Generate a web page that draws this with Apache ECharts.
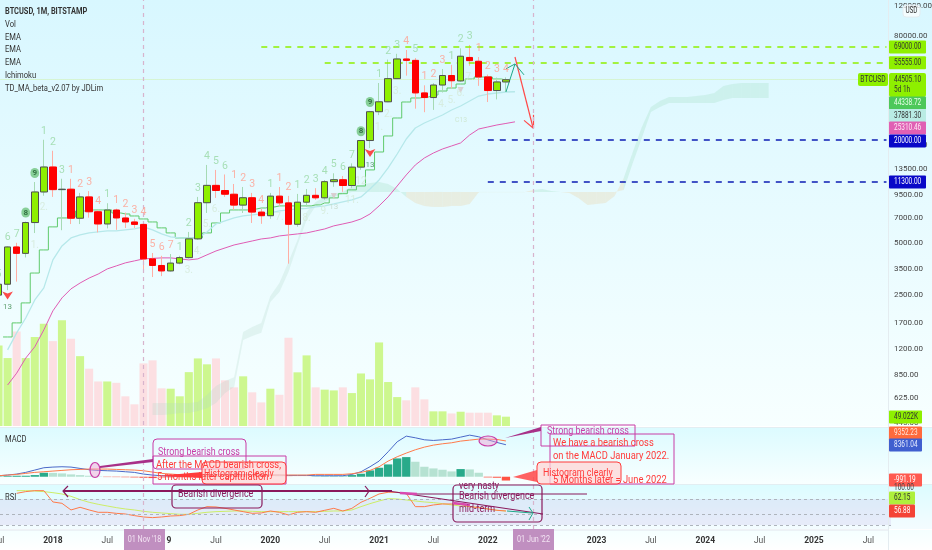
<!DOCTYPE html>
<html>
<head>
<meta charset="utf-8">
<style>html,body{margin:0;padding:0;background:#fff}#main{width:932px;height:550px}</style>
<script src="https://cdn.jsdelivr.net/npm/echarts@6/dist/echarts.min.js"></script>
</head>
<body>
<div id="main"></div>
<script>
// monthly candles, Jul 2017 .. Mar 2022
var opens = [2480,2870,4730,4340,6560,9886,13820,10200,10260,6950,9250,7580,6437,7760,6976,6612,6400,4030,3690,3430,3810,4100,5270,8560,10800,10080,9590,8290,9150,7550,7190,9350,8540,6410,8620,9450,9140,11350,11650,10780,13790,19700,28990,33110,45160,58800,57700,37300,35050,41460,47100,43800,60000,57000,46200,38500,43200];
var closes = [2870,4730,4340,6560,9886,13820,10200,10260,6950,9250,7580,6437,7760,6976,6612,6400,4030,3690,3430,3810,4100,5270,8560,10800,10080,9590,8290,9150,7550,7190,9350,8540,6410,8620,9450,9140,11350,11650,10780,13790,19700,28990,33110,45160,58800,57700,37300,35050,41460,47100,43900,61000,57500,46200,38500,43200,44505];
var lows = [1830,2650,2972,4110,5700,9400,9250,5920,6430,6430,7000,5750,6070,5950,6100,6100,3500,3160,3200,3410,3750,4050,5200,7460,9130,9250,7770,7460,6524,6450,6900,8200,3780,6200,8100,8900,8900,10600,9900,10400,13300,17800,27700,33000,44900,47000,30200,28800,29700,37500,39600,43300,53700,41000,33000,34200,37900];
var highs = [2920,4770,5000,6650,11300,19900,17170,11800,11790,9760,10000,7760,8500,7900,7500,6900,6700,4360,4200,4300,4200,5785,9250,14200,13285,12500,11000,10570,9760,7900,9760,10570,9380,9630,10290,10400,11600,12700,12250,14500,19800,29300,42590,58300,63000,66300,59500,41300,42500,51400,54300,67800,70900,60350,47700,45800,45900];

// stepped TD line, two EMAs (first value is Aug 2017)
var tdStep = [1415,1709,2234,3334,4544,6190,6976,7070,7663,7766,7766,7766,7459,7360,7165,6884,6612,6108,5708,5338,5338,5338,5708,6524,7459,7766,7766,7870,7976,8090,8200,8200,8200,8200,8310,8535,9130,9660,10165,10710,13285,16893,20940,26650,33025,34840,35310,36260,38260,39830,42026,44937,46160,46160,44937,44338];
var emaCyan = [1190,1495,1825,2325,2733,3977,4794,5338,5557,5708,5785,5863,5863,5942,6022,6190,5942,5630,5410,5338,5338,5338,5785,6437,6701,6976,7165,7262,7360,7459,7663,7766,7870,7923,8090,8200,8420,8650,8885,9250,10290,11614,13636,16448,20113,23306,24921,26295,27745,29664,31297,33467,35780,36750,37250,37750,37881];
var emaPink = [743,871,1066,1240,1556,2009,2388,2697,2917,3118,3290,3524,3669,3821,3924,4030,4057,4085,4085,4030,3977,4030,4253,4483,4667,4858,4990,5125,5265,5338,5483,5557,5632,5708,5863,6022,6274,6437,6612,6884,7360,8200,9250,10710,12420,14196,15590,16670,17590,18314,19070,21222,22994,23620,24261,24770,25310];

// ichimoku spans, first value is Dec 2018
var spanA = [583,583,583,583,583,591,649,733,783,826,1515,1620,1709,2453,2917,3872,5197,7566,8650,9250,9630,9890,10710,10860,11150,11300,11000,10290,9250,8535,8200,8090,8090,8200,8200,8420,9860,9860,9860,9860,9860,9860,10160,10290,10020,9880,9760,9130,8310,8420,8535,9380,11930,16890,23620,30880,33470,35310,35310,35310,35780,36260,37250,40910,42030,42590,42590,42590,42590];
var spanB = [497,497,503,510,510,524,545,583,667,723,1359,1434,1495,2263,2590,3379,4858,6790,8200,8650,9250,9630,9890,9890,9890,9890,9890,9890,9890,9890,9890,9890,9890,9890,9890,9890,9890,9890,9890,9890,9890,9890,9890,9890,9890,9890,9890,9890,9890,9890,9890,9890,10160,14580,20390,28880,30880,32580,32580,32580,32580,32580,32580,33920,34840,34840,34840,34840,34840];

var volumes = [423,357,497,357,467,537,446,555,458,367,301,234,234,227,156,114,329,345,198,196,156,283,355,324,355,240,203,261,177,124,196,164,464,282,371,203,191,187,203,173,276,245,439,231,152,135,203,140,77,77,66,75,70,70,70,56,49];

var macdLine = [261,435,696,1131,1740,2349,2523,2610,2523,2175,1827,1653,1566,1479,1305,1131,696,435,261,174,87,174,348,522,609,609,609,609,522,435,435,435,348,348,348,261,261,261,261,609,1305,2610,4089,6525,9135,10614,10179,9657,9483,9657,9831,10353,10875,10440,9657,8961,8361];
var signalLine = [261,435,609,870,1131,1305,1479,1653,1827,1914,2001,2001,2001,1914,1827,1740,1566,1218,870,696,522,435,435,435,435,435,435,435,435,435,435,435,435,435,435,609,609,609,609,783,1131,1653,2610,4089,5220,6177,7047,7743,8265,8613,8874,9309,9570,9831,9831,9744,9352];
var macdHist = [100,170,260,260,430,1040,1000,870,610,430,260,90,-90,-100,-130,-180,-260,-350,-350,-260,-170,90,170,170,170,90,-30,-60,-90,-90,-30,30,-30,-30,-30,60,90,90,90,435,783,1653,2349,3219,4785,5133,3915,2610,2175,1827,1392,2001,1914,1044,-174,-261,-991];

var rsiLine = [null,null,78.7,81.3,82.8,82.8,65.4,63.3,53.1,57.2,53.1,49.5,49.5,47.9,46.9,44.4,42.3,41.3,42.3,43.8,44.4,46.4,53.1,58.2,57.7,55.6,53.1,50.5,47.9,48.5,51.5,49.5,45.4,49.5,50.5,49.5,52.6,55.6,51.5,55.6,64.9,71,77.7,80.3,80.3,78.7,58.2,58.2,60.8,62.3,62.3,61.8,58.2,56.7,54.6,52.6,51.5];
var rsiMa = [null,null,82.8,82.8,82.3,81.3,79.7,77.7,74.1,69,64.9,61.8,59.2,56.7,54.6,53.1,51,49.5,48.5,47.4,46.4,46.4,47.9,49.5,50.5,51,51.5,51.5,51,50.5,50.5,50.5,50.5,50.5,50.5,50.5,51,51.5,51.5,53.1,58.2,62.8,66.9,70.5,70,68.5,66.9,65.4,64.4,62.8,60.8,59.2,58.2,56.7,54.6,52.6,51.5];
var rsiLevels = [70,46.4,30];

// count labels: [month index, text]
var countsGreen = [[0,'5'],[1,'6'],[2,'7'],[5,'1'],[6,'2'],[7,'3'],[12,'1'],[20,'1'],[21,'2'],[22,'3'],[23,'4'],[24,'5'],[25,'6'],[30,'1'],[33,'1'],[34,'2'],[35,'3'],[36,'4'],[37,'5'],[38,'6'],[39,'7'],[42,'1'],[43,'2'],[44,'3'],[46,'5'],[50,'1'],[51,'2'],[52,'3']];
var countsRed = [[8,'1'],[9,'2'],[10,'3'],[11,'4'],[13,'1'],[14,'2'],[15,'3'],[16,'4'],[17,'5'],[18,'6'],[19,'7'],[26,'1'],[27,'2'],[28,'3'],[29,'4'],[31,'1'],[32,'2'],[45,'4'],[47,'1'],[48,'2'],[49,'3'],[53,'1'],[54,'2'],[55,'3'],[56,'4']];
var countsRound = [[3,'8'],[4,'9'],[40,'8'],[41,'9']];
var countsBelow = [[4,'1.'],[5,'2.'],[21,'3.'],[22,'4.'],[23,'5.'],[24,'6.'],[31,'7.'],[34,'8.'],[36,'9.'],[39,'11.'],[40,'12'],[42,'1.'],[43,'2.'],[44,'3.'],[49,'4.'],[50,'5.'],[51,'6.'],[52,'7.']];
// red arrow with a 13 under it: [month index, price]
var signal13 = [[1,2340],[41,15800]];
// small grey triangles: [month index, price, text]
var fadedMarks = [[37,9380,'13'],[51,38780,'']];

var priceTicks = [120000,80000,18500,13500,9500,7000,5000,3500,2500,1700,1200,850,625,445];
var levelsGreen = [[69000,29],[55555,36]];
var levelsBlue = [[20000,54],[11300,54]];
var lastPrice = 44505.10;
var markedMonths = [16,59];

// right hand price tags: text, centre y, background, text colour, width
var priceTags = [
  ['69000.00',47,'#8ef000','#333',37],['55555.00',62.7,'#8ef000','#333',37],
  ['44338.72',103,'#4cc85a','#e8ffe8',37],['37881.30',115.5,'#b9ece4','#333',37],
  ['25310.46',128,'#e060b4','#ffe8f6',37],['20000.00',141,'#0808c8','#fff',37],
  ['11300.00',182,'#0808c8','#fff',37],['49.022K',417,'#8ef000','#333',33],
  ['9352.23',433,'#ff6a3c','#ffe6dc',33],['8361.04',445,'#3f5fcf','#e6ecff',33],
  ['-991.19',480,'#ff5a50','#fff',33],['62.15',498,'#aef03c','#333',26],['56.88',511,'#f44336','#fff',26]
];

var months = [];
(function () {
  var names = ['01','02','03','04','05','06','07','08','09','10','11','12'];
  var y = 2017, m = 6;
  for (var k = 0; k < 99; k++) {
    months.push(y + '-' + names[m]);
    m++;
    if (m == 12) { m = 0; y++; }
  }
})();

var FONT = 'Roboto,sans-serif';
var candleLast = closes.length;

function pad(list) { return [null].concat(list); }
function pickAt(list, src) { return list.map(function (c) { return [c[0], src[c[0]], c[1]]; }); }

var wicks = opens.map(function (o, i) { return [o, closes[i], lows[i], highs[i]]; });
var bodies = opens.map(function (o, i) { return [o, closes[i], Math.min(o, closes[i]), Math.max(o, closes[i])]; });

var cloudRows = spanA.map(function (a, k) { return [17 + k, a, spanB[k]]; });

function renderCloud(params, api) {
  var k = params.dataIndex;
  if (k >= cloudRows.length - 1) return;
  var r = cloudRows[k], n = cloudRows[k + 1];
  var fill = r[1] >= r[2] ? (r[0] < 35 ? 'rgba(176,214,200,0.25)' : 'rgba(176,228,208,0.38)') : 'rgba(232,222,190,0.45)';
  return {
    type: 'polygon',
    shape: { points: [api.coord([r[0], r[1]]), api.coord([n[0], n[1]]), api.coord([n[0], n[2]]), api.coord([r[0], r[2]])] },
    style: { fill: fill }
  };
}

function seg(x1, v1, x2, v2, color, width) {
  return [{ coord: [x1, v1], lineStyle: { color: color, width: width, type: 'solid' } }, { coord: [x2, v2] }];
}

// --- drawn notes, these sit on top of the panes in screen pixels
function rect(x, y, w, h, stroke, fill, r, lw) {
  return { type: 'rect', z: 50, shape: { x: x, y: y, width: w, height: h, r: r || 0 }, style: { stroke: stroke, fill: fill || 'transparent', lineWidth: lw || 1 } };
}
function txt(x, y, s, color, size, squeeze, extra) {
  return {
    type: 'text', z: 60, x: x, y: y, scaleX: squeeze || 0.85,
    style: Object.assign({ x: 0, y: 0, text: s, fill: color, font: (size || 11) + 'px ' + FONT, textVerticalAlign: 'middle' }, extra || {})
  };
}
function poly(points, stroke, lw) {
  return { type: 'polyline', z: 55, shape: { points: points }, style: { stroke: stroke, lineWidth: lw || 1, fill: 'transparent' } };
}
function wedge(points, fill) {
  return { type: 'polygon', z: 52, shape: { points: points }, style: { fill: fill } };
}
function oval(cx, cy, rx, ry, stroke, fill) {
  return { type: 'ellipse', z: 54, shape: { cx: cx, cy: cy, rx: rx, ry: ry }, style: { stroke: stroke, fill: fill, lineWidth: 1.2 } };
}
function paneBg(y, h, c1, c2) {
  return { type: 'rect', z: -10, shape: { x: 0, y: y, width: 932, height: h }, style: { fill: new echarts.graphic.LinearGradient(0, 0, 0, 1, [{ offset: 0, color: c1 }, { offset: 1, color: c2 }]) } };
}

var MAROON = '#8a1a5c', PINK = '#c83ca6', RED = '#ff3b3b';
var graphics = [
  paneBg(0, 426, '#d8f7ff', '#f7ffff'),
  paneBg(427, 57, '#dcfbff', '#f8ffff'),
  paneBg(485, 44, '#dcfcff', '#f4fcff'),
  paneBg(530, 20, '#f4ffff', '#ffffff'),
  { type: 'rect', z: -9, shape: { x: 0, y: 427, width: 932, height: 1 }, style: { fill: '#e2eef2' } },
  { type: 'rect', z: -9, shape: { x: 0, y: 484, width: 932, height: 1 }, style: { fill: '#e2eef2' } },
  { type: 'rect', z: -9, shape: { x: 0, y: 529.5, width: 888, height: 1 }, style: { fill: '#e2e6ee' } },
  { type: 'rect', z: 40, shape: { x: 888, y: 0, width: 1, height: 550 }, style: { fill: '#e4ecf0' } },

  txt(5, 12, 'BTCUSD, 1M, BITSTAMP', '#333', 9.5, 0.78, { font: 'bold 9.5px ' + FONT }),
  txt(5, 25, 'Vol', '#333', 9.5, 0.8), txt(5, 38, 'EMA', '#333', 9.5, 0.8), txt(5, 50, 'EMA', '#333', 9.5, 0.8),
  txt(5, 63, 'EMA', '#333', 9.5, 0.8), txt(5, 76, 'Ichimoku', '#333', 9.5, 0.8), txt(5, 89, 'TD_MA_beta_v2.07 by JDLim', '#333', 9.5, 0.8),
  txt(5, 440, 'MACD', '#333', 9.5, 0.8), txt(5, 498, 'RSI', '#333', 9.5, 0.8),
  txt(461, 120, 'C13', '#cfe8d4', 8, 0.85, { textAlign: 'center' }),

  // left MACD notes
  oval(95, 470, 5, 7.5, PINK, 'rgba(240,160,210,0.45)'),
  wedge([[100, 466], [153, 459], [153, 462], [100, 468]], '#a83088'),
  rect(153, 439, 93, 30, PINK, 'rgba(255,255,255,0.15)', 4),
  txt(158, 452, 'Strong bearish cross', PINK, 10.5),
  rect(153, 456, 133, 28, PINK, 'transparent', 0),
  rect(202, 462, 84, 22, RED, 'rgba(255,214,214,0.75)', 4),
  wedge([[157, 476], [202, 472], [202, 478]], RED),
  txt(204, 474, 'Histogram clearly', RED, 10.5),
  txt(156, 465, 'After the MACD bearish cross,', RED, 11),
  txt(157, 477, '5 months later capitulation', RED, 11),

  // left RSI notes
  poly([[63, 491], [392, 491]], MAROON, 2),
  poly([[68, 486], [63, 491], [68, 497]], MAROON, 1.2),
  poly([[365, 486], [369, 491], [365, 497]], MAROON, 1.2),
  rect(172, 485, 90, 23, MAROON, 'transparent', 4, 1.2),
  txt(178, 494, 'Bearish divergence', MAROON, 10.5),

  // right MACD notes
  oval(488, 441, 9, 5, PINK, 'rgba(240,160,210,0.45)'),
  wedge([[505, 438], [541, 427], [541, 431]], '#a83088'),
  rect(541, 425, 94, 21, PINK, 'transparent', 0),
  txt(547, 431, 'Strong bearish cross', PINK, 10.5),
  rect(550, 434, 124, 50, PINK, 'transparent', 0),
  txt(553, 443.5, 'We have a bearish cross', RED, 11),
  txt(553, 456, 'on the MACD January 2022.', RED, 11),
  rect(537, 462, 84, 22, RED, 'rgba(255,214,214,0.75)', 4),
  wedge([[513, 477], [537, 470], [537, 482]], 'rgba(255,70,70,0.85)'),
  txt(543, 473, 'Histogram clearly', RED, 10.5),
  txt(553, 480, '5 Months later = June 2022', RED, 11),

  // right RSI notes
  poly([[410, 494], [587, 494]], MAROON, 1.2),
  poly([[388, 491], [543, 514]], MAROON, 1.2),
  poly([[400, 493], [417, 494]], '#d84ab0', 2.5),
  poly([[453, 503], [470, 505]], '#d84ab0', 2.5),
  rect(453, 485, 89, 37, MAROON, 'transparent', 4, 1.2),
  txt(459, 486, 'very nasty', MAROON, 10.5),
  txt(459, 496, 'Bearish divergence', MAROON, 10.5),
  txt(459, 509, 'mid-term', MAROON, 10.5),
  poly([[507, 511], [532, 513]], '#1fa888', 1),
  poly([[529, 507], [533, 513], [529, 520]], '#1fa888', 1),

  // crosshair date tags and odd bits on the right
  rect(124, 529, 41, 21, 'transparent', '#c08fc0', 0), txt(144.5, 540, "01 Nov '18", '#f3e4f3', 9, 0.8, { textAlign: 'center' }),
  rect(513, 529, 41, 21, 'transparent', '#c08fc0', 0), txt(533.5, 540, "01 Jun '22", '#f3e4f3', 9, 0.8, { textAlign: 'center' }),
  rect(858, 73, 30, 13, 'transparent', '#8ef000', 2), txt(873, 79.5, 'BTCUSD', '#333', 9, 0.75, { textAlign: 'center' }),
  rect(889, 73, 37, 24, 'transparent', '#8ef000', 2),
  txt(894, 79.5, lastPrice.toFixed(2), '#333', 9, 0.72), txt(894, 90, '5d 1h', '#333', 9, 0.72),
  rect(903, 5, 17, 12, '#e4ecf0', 'rgba(255,255,255,0.7)', 3), txt(911.5, 11, 'USD', '#333', 8.5, 0.75, { textAlign: 'center' }),
  txt(894, 488, '100.00', '#444', 9, 0.72)
];
priceTags.forEach(function (t) {
  graphics.push(rect(889, t[1] - 6.5, t[4], 13, 'transparent', t[2], 1));
  graphics.push(txt(894, t[1], t[0], t[3], 9, 0.72));
});

var grids = [[0, 426], [300, 126], [427, 57], [485, 44], [0, 529]].map(function (box) {
  return { left: -6, width: 897, top: box[0], height: box[1], outerBoundsMode: 'none', containLabel: false };
});
var xAxes = grids.map(function (g, k) {
  var axis = { type: 'category', gridIndex: k, data: months, axisLine: { show: false }, axisTick: { show: false }, axisLabel: { show: false }, splitLine: { show: false } };
  if (k == 3) {
    axis.axisLabel = {
      show: true, margin: 7, color: '#555', fontFamily: FONT, fontSize: 8.5, hideOverlap: false,
      interval: function (idx, val) { return /-(01|07)$/.test(val); },
      formatter: function (val) { return /-07$/.test(val) ? 'Jul' : '{y|' + val.slice(0, 4) + '}'; },
      rich: { y: { fontWeight: 'bold', color: '#333', fontFamily: FONT, fontSize: 8.5 } }
    };
  }
  return axis;
});

var option = {
  animation: false,
  graphic: { elements: graphics },
  grid: grids,
  xAxis: xAxes,
  yAxis: [
    {
      type: 'log', gridIndex: 0, position: 'right', min: 429, max: 129600, logBase: 10,
      axisLine: { show: false }, axisTick: { show: false }, splitLine: { show: false }, minorSplitLine: { show: false },
      axisLabel: { customValues: priceTicks, margin: 3, color: '#444', fontFamily: FONT, fontSize: 8, formatter: function (v) { return (+v).toFixed(2); } }
    },
    { type: 'value', gridIndex: 1, min: 0, max: 662, show: false, splitLine: { show: false } },
    { type: 'value', gridIndex: 2, min: -1900, max: 13000, show: false, splitLine: { show: false } },
    { type: 'value', gridIndex: 3, min: 23.8, max: 91.5, show: false, splitLine: { show: false } },
    { type: 'value', gridIndex: 4, min: 0, max: 1, show: false, splitLine: { show: false } }
  ],
  series: [
    {
      type: 'bar', name: 'Vol', xAxisIndex: 1, yAxisIndex: 1, z: 1, barCategoryGap: '11%',
      data: volumes.map(function (v, i) {
        return { value: v, itemStyle: { color: closes[i] >= opens[i] ? '#cdf78f' : '#fcdfe2' } };
      })
    },
    { type: 'custom', name: 'Ichimoku', z: 2, xAxisIndex: 0, yAxisIndex: 0, clip: true, renderItem: renderCloud, data: cloudRows, silent: true },
    {
      type: 'line', name: 'TD step', xAxisIndex: 0, yAxisIndex: 0, z: 3, step: 'middle', showSymbol: false, silent: true,
      lineStyle: { color: '#5fca6c', width: 1 }, data: pad(tdStep),
      markLine: {
        silent: true, symbol: 'none', label: { show: false }, animation: false,
        data: [
          [{ coord: [0, lastPrice], lineStyle: { color: '#cdf0a8', width: 1, type: 'dotted' } }, { coord: [95, lastPrice] }]
        ].concat(levelsGreen.map(function (l) {
          return [{ coord: [l[1], l[0]], lineStyle: { color: '#8ef000', width: 1.5, type: [6, 6] } }, { coord: [98, l[0]] }];
        })).concat(levelsBlue.map(function (l) {
          return [{ coord: [l[1], l[0]], lineStyle: { color: '#0c1cb4', width: 1.5, type: [6, 6] } }, { coord: [98, l[0]] }];
        })).concat([
          seg(57, 60350, 59, 23300, '#ff4a4a', 1.2),
          seg(58.4, 25800, 59, 23300, '#ff4a4a', 1.2),
          seg(59.4, 27800, 59, 23300, '#ff4a4a', 1.2),
          seg(56, 37750, 57, 55000, '#1fa888', 1),
          seg(56, 51500, 57, 55000, '#1fa888', 1),
          seg(57.5, 47500, 57, 55000, '#1fa888', 1)
        ])
      }
    },
    { type: 'line', name: 'EMA', xAxisIndex: 0, yAxisIndex: 0, z: 3, showSymbol: false, silent: true, lineStyle: { color: '#b6e8ea', width: 1.3 }, data: pad(emaCyan).slice(0, candleLast + 1) },
    { type: 'line', name: 'EMA long', xAxisIndex: 0, yAxisIndex: 0, z: 3, showSymbol: false, silent: true, lineStyle: { color: '#e05cb4', width: 1 }, data: pad(emaPink).slice(0, candleLast + 1) },
    {
      type: 'candlestick', name: 'wicks', xAxisIndex: 0, yAxisIndex: 0, z: 4, barWidth: 3, silent: true,
      itemStyle: { color: '#a6dab4', color0: '#ffaea4', borderColor: '#a6dab4', borderColor0: '#ffaea4', borderWidth: 1 }, data: wicks
    },
    {
      type: 'candlestick', name: 'BTCUSD', xAxisIndex: 0, yAxisIndex: 0, z: 5, barWidth: 7, silent: true,
      itemStyle: { color: '#8ef000', color0: '#ff0000', borderColor: '#505050', borderColor0: '#ff0000', borderColorDoji: '#333', borderWidth: 1 }, data: bodies
    },
    {
      type: 'scatter', xAxisIndex: 0, yAxisIndex: 0, z: 6, symbolSize: 0, silent: true, data: pickAt(countsGreen, highs),
      label: { show: true, position: 'top', distance: 3, color: '#97d8a4', fontFamily: FONT, fontSize: 10.5, formatter: function (p) { return p.data[2]; } }
    },
    {
      type: 'scatter', xAxisIndex: 0, yAxisIndex: 0, z: 6, symbolSize: 0, silent: true, data: pickAt(countsRed, highs),
      label: { show: true, position: 'top', distance: 3, color: '#ff9f8e', fontFamily: FONT, fontSize: 10.5, formatter: function (p) { return p.data[2]; } }
    },
    {
      type: 'scatter', xAxisIndex: 0, yAxisIndex: 0, z: 6, symbolSize: 0, silent: true, data: pickAt(countsRound, highs),
      label: {
        show: true, position: 'top', distance: 4, color: '#1e5c2e', fontFamily: FONT, fontWeight: 'bold', fontSize: 8,
        backgroundColor: '#6fc47e', borderRadius: 5, padding: [1, 2, 1, 2], formatter: function (p) { return p.data[2]; }
      }
    },
    {
      type: 'scatter', xAxisIndex: 0, yAxisIndex: 0, z: 6, symbolSize: 0, silent: true, data: pickAt(countsBelow, lows),
      label: { show: true, position: 'bottom', distance: 7, color: '#d4ead8', fontFamily: FONT, fontSize: 10, formatter: function (p) { return p.data[2]; } }
    },
    {
      type: 'scatter', xAxisIndex: 0, yAxisIndex: 0, z: 6, symbol: 'arrow', symbolRotate: 180, symbolSize: 8, silent: true,
      itemStyle: { color: '#ff1c1c' }, data: signal13,
      label: { show: true, position: 'bottom', distance: 4, color: '#3d8a4e', fontFamily: FONT, fontSize: 8, formatter: '13' }
    },
    {
      type: 'scatter', xAxisIndex: 0, yAxisIndex: 0, z: 6, symbol: 'triangle', symbolRotate: 180, symbolSize: 6, silent: true,
      itemStyle: { color: '#d8c4c8' }, data: fadedMarks,
      label: { show: true, position: 'bottom', distance: 4, color: '#c4d8c8', fontFamily: FONT, fontSize: 8, formatter: function (p) { return p.data[2]; } }
    },
    {
      type: 'bar', name: 'Histogram', xAxisIndex: 2, yAxisIndex: 2, barCategoryGap: '8%',
      data: macdHist.map(function (v, i) {
        var rising = i == 0 || v >= macdHist[i - 1];
        var c = v >= 0 ? (rising ? '#28aa8a' : '#b6e2d2') : (rising ? '#ffb4a8' : '#ff5242');
        return { value: v, itemStyle: { color: c } };
      })
    },
    { type: 'line', name: 'MACD', xAxisIndex: 2, yAxisIndex: 2, showSymbol: false, silent: true, lineStyle: { color: '#4a68c8', width: 1 }, data: macdLine },
    { type: 'line', name: 'Signal', xAxisIndex: 2, yAxisIndex: 2, showSymbol: false, silent: true, lineStyle: { color: '#ff7a4a', width: 1 }, data: signalLine },
    {
      type: 'line', name: 'RSI MA', xAxisIndex: 3, yAxisIndex: 3, showSymbol: false, silent: true, lineStyle: { color: '#cdee66', width: 1 }, data: rsiMa,
      markArea: { silent: true, itemStyle: { color: 'rgba(190,170,225,0.2)' }, data: [[{ yAxis: rsiLevels[0] }, { yAxis: rsiLevels[2] }]] },
      markLine: {
        silent: true, symbol: 'none', label: { show: false },
        lineStyle: { color: '#aeb4bc', width: 1, type: [3, 3] },
        data: rsiLevels.map(function (v) { return { yAxis: v }; })
      }
    },
    { type: 'line', name: 'RSI', xAxisIndex: 3, yAxisIndex: 3, showSymbol: false, silent: true, lineStyle: { color: '#ff7a4a', width: 1 }, data: rsiLine },
    {
      type: 'line', name: 'marks', xAxisIndex: 4, yAxisIndex: 4, data: [], z: 7, silent: true,
      markLine: {
        silent: true, symbol: 'none', label: { show: false },
        lineStyle: { color: '#d8b4cc', width: 1.2, type: [4, 4] },
        data: markedMonths.map(function (i) { return { xAxis: i }; })
      }
    }
  ]
};

echarts.init(document.getElementById('main'), null, { renderer: 'canvas' }).setOption(option);
</script>
</body>
</html>
